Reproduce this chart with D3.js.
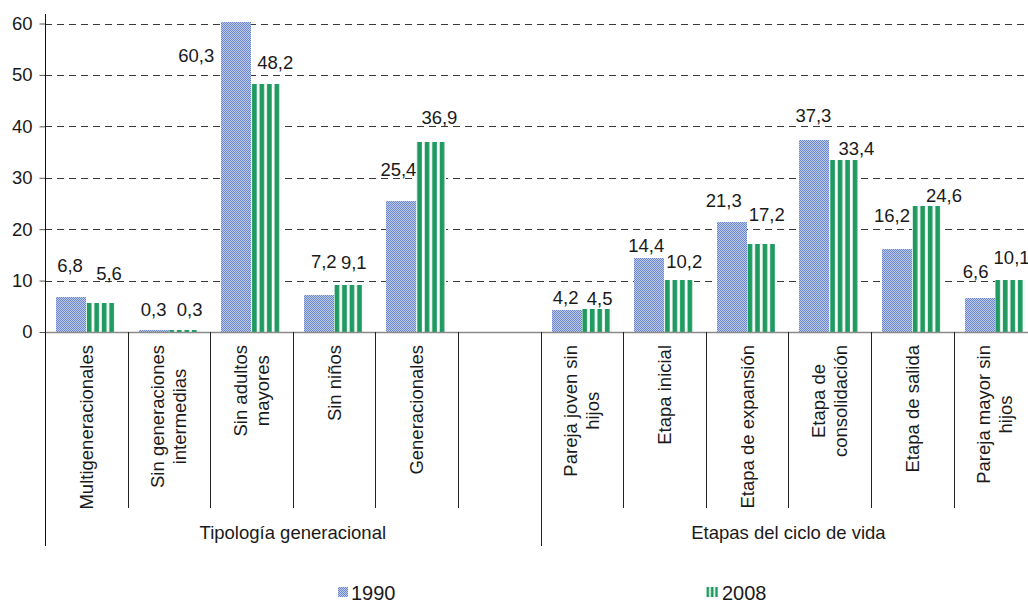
<!DOCTYPE html>
<html><head><meta charset="utf-8">
<script src="https://cdn.jsdelivr.net/npm/d3@7/dist/d3.min.js"></script>
<style>
html,body{margin:0;padding:0;background:#fff;}
svg text{font-family:"Liberation Sans",Arial,sans-serif;fill:#1a1a1a;}
</style></head>
<body>
<svg id="chart" width="1028" height="604"></svg>
<script>
// ---- data ----
const categories = ["Multigeneracionales","Sin generaciones|intermedias","Sin adultos|mayores","Sin niños","Generacionales","",
  "Pareja joven sin|hijos","Etapa inicial","Etapa de expansión","Etapa de|consolidación","Etapa de salida","Pareja mayor sin|hijos"];
const values1990 = [6.8,0.3,60.3,7.2,25.4,null,4.2,14.4,21.3,37.3,16.2,6.6];
const values2008 = [5.6,0.3,48.2,9.1,36.9,null,4.5,10.2,17.2,33.4,24.6,10.1];
const groupNames = ["Tipología generacional","Etapas del ciclo de vida"];
const groupStarts = [0,6];
const groupEnds = [6,12];
const yTicks = [0,10,20,30,40,50,60];
const seriesNames = ["1990","2008"];
// label nudges (text centre relative to bar centre / bar top)
const labelNudge1990 = [[-1,-32],[0,-21],[-40,34],[5,-33],[-3,-32],null,[-1,-13],[-3,-12],[-8,-22],[-1,-25],[-5,-33],[-4,-27]];
const labelNudge2008 = [[8,-30],[6,-21],[9,-22],[5,-23],[8,-25],null,[3,-10],[5,-18],[5,-29],[12,-12],[17,-10],[2,-23]];

const FS = 18.5;
const svg = d3.select("#chart");
const defs = svg.append("defs");
// blue checker pattern
const pb = defs.append("pattern").attr("id","pBlue").attr("width",2).attr("height",2).attr("patternUnits","userSpaceOnUse");
pb.append("rect").attr("width",2).attr("height",2).attr("fill","#bccaec");
pb.append("rect").attr("width",1).attr("height",1).attr("fill","#6c87cf");
pb.append("rect").attr("x",1).attr("y",1).attr("width",1).attr("height",1).attr("fill","#6c87cf");
// green stripe pattern (4 stripes per bar)
const pg = defs.append("pattern").attr("id","pGreen").attr("width",0.25).attr("height",1)
  .attr("patternUnits","objectBoundingBox").attr("patternContentUnits","objectBoundingBox");
pg.append("rect").attr("width",0.25).attr("height",1).attr("fill","#ffffff");
pg.append("rect").attr("x",0.022).attr("width",0.166).attr("height",1).attr("fill","#9ed8b9");
pg.append("rect").attr("x",0.03).attr("width",0.15).attr("height",1).attr("fill","#1f9a60");
const pg3 = defs.append("pattern").attr("id","pGreen3").attr("width",1/3).attr("height",1)
  .attr("patternUnits","objectBoundingBox").attr("patternContentUnits","objectBoundingBox");
pg3.append("rect").attr("width",1/3).attr("height",1).attr("fill","#ffffff");
pg3.append("rect").attr("x",0.04).attr("width",0.2).attr("height",1).attr("fill","#1f9a60");

const step = 82.6;
const x = d3.scaleBand().domain(d3.range(categories.length)).range([45, 45+step*categories.length]).padding(0);
const x1 = d3.scaleBand().domain(seriesNames).range([11, step-11.6]).padding(0);
const y = d3.scaleLinear().domain([0,60]).range([332,23.5]);

// gridlines
svg.append("g").selectAll("line").data(yTicks.filter(t=>t>0)).join("line")
  .attr("x1",45).attr("x2",1028).attr("y1",d=>Math.round(y(d))+0.5).attr("y2",d=>Math.round(y(d))+0.5)
  .attr("stroke","#3a3a3a").attr("stroke-width",1).attr("stroke-dasharray","7,5");

// bars
const fills = {"1990":"url(#pBlue)","2008":"url(#pGreen)"};
const series = [["1990",values1990,labelNudge1990],["2008",values2008,labelNudge2008]];
const fmt = v => d3.format(".1f")(v).replace(".",",");
series.forEach(([name,vals,nudge])=>{
  const data = vals.map((v,i)=>({i,v,n:nudge[i]})).filter(d=>d.v!==null);
  svg.append("g").selectAll("rect").data(data).join("rect")
    .attr("x",d=>x(d.i)+x1(name)).attr("width",x1.bandwidth())
    .attr("y",d=>y(d.v)).attr("height",d=>y(0)-y(d.v))
    .attr("fill",fills[name]).attr("shape-rendering","crispEdges");
  svg.append("g").selectAll("text").data(data).join("text")
    .attr("x",d=>x(d.i)+x1(name)+x1.bandwidth()/2+d.n[0])
    .attr("y",d=>y(d.v)+d.n[1]).attr("dy","0.35em")
    .attr("text-anchor","middle").attr("font-size",FS).text(d=>fmt(d.v));
});

// zero line
svg.append("line").attr("x1",45).attr("x2",1028).attr("y1",Math.round(y(0))+0.5).attr("y2",Math.round(y(0))+0.5)
  .attr("stroke","#8a8a8a").attr("stroke-width",1.3);

// y axis
const yAxis = d3.axisLeft(y).tickValues(yTicks).tickSize(6).tickFormat(d3.format("d"));
const ga = svg.append("g").attr("transform","translate(45.5,0)").call(yAxis);
ga.select(".domain").remove();
ga.selectAll(".tick line").attr("stroke","#555");
ga.selectAll(".tick text").attr("font-size",FS).attr("x",-13).attr("fill","#1a1a1a").attr("font-family","Liberation Sans, Arial, sans-serif");
svg.append("line").attr("x1",45.5).attr("x2",45.5).attr("y1",14).attr("y2",546).attr("stroke","#111").attr("stroke-width",1);

// category dividers
const bounds = d3.range(categories.length+1);
svg.append("g").selectAll("line").data(bounds.filter(b=>b>0)).join("line")
  .attr("x1",b=>Math.round(45+x.step()*b)+0.5).attr("x2",b=>Math.round(45+x.step()*b)+0.5)
  .attr("y1",332).attr("y2",b=>groupStarts.includes(b)?546:508)
  .attr("stroke","#222").attr("stroke-width",1);

// category labels
const lh = 22;
svg.append("g").selectAll("g").data(categories.map((c,i)=>({c,i})).filter(d=>d.c)).join("g")
  .each(function(d){
    const g = d3.select(this);
    const lines = d.c.split("|");
    const t = g.append("text").attr("text-anchor","middle").attr("font-size",FS);
    lines.forEach((ln,j)=>t.append("tspan").attr("x",0).attr("y",(j-(lines.length-1)/2)*lh).attr("dy","0.35em").text(ln));
    const maxLen = d3.max(t.selectAll("tspan").nodes(), n=>n.getComputedTextLength());
    g.attr("transform",`translate(${x(d.i)+x.bandwidth()/2},${345+maxLen/2}) rotate(-90)`);
  });

// group labels
svg.append("g").selectAll("text").data(groupNames).join("text")
  .attr("x",(d,i)=>(x(groupStarts[i]) + 45+x.step()*groupEnds[i])/2)
  .attr("y",533).attr("dy","0.35em").attr("text-anchor","middle").attr("font-size",FS).text(d=>d);

// legend
const lg = svg.append("g");
lg.append("rect").attr("x",338).attr("y",587).attr("width",10).attr("height",10).attr("fill","url(#pBlue)");
lg.append("text").attr("x",351).attr("y",593).attr("dy","0.35em").attr("font-size",20).text(seriesNames[0]);
lg.append("rect").attr("x",706).attr("y",587).attr("width",13).attr("height",10).attr("fill","url(#pGreen3)");
lg.append("text").attr("x",722).attr("y",593).attr("dy","0.35em").attr("font-size",20).text(seriesNames[1]);
</script>
</body></html>
